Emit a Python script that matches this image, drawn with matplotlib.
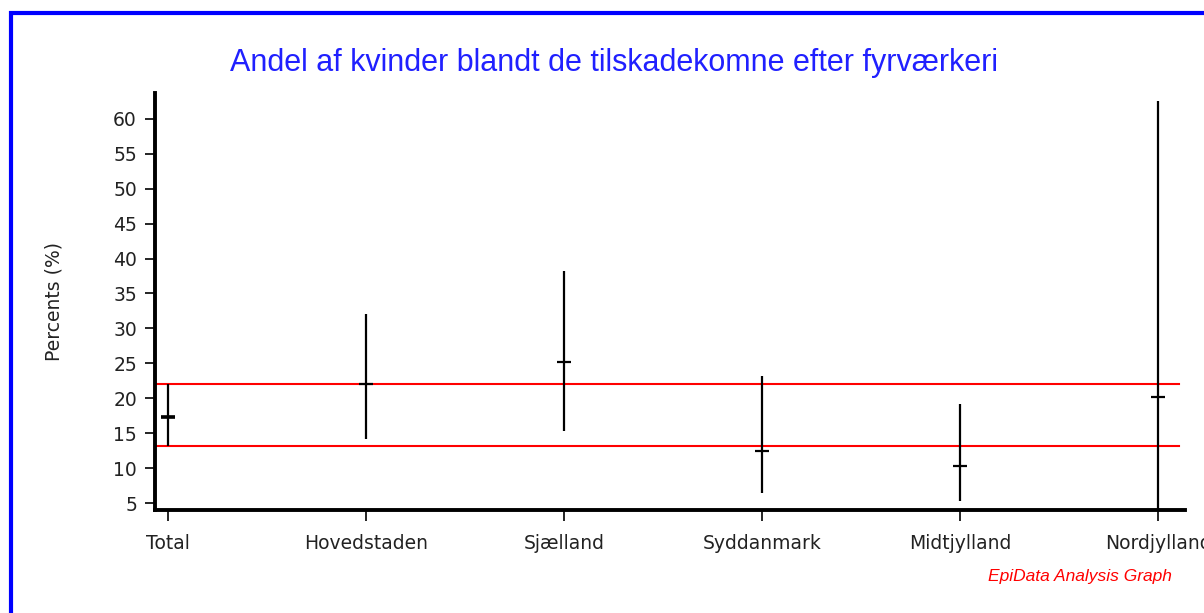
import matplotlib
matplotlib.use("Agg")
import matplotlib.pyplot as plt
from matplotlib.patches import Rectangle

categories = ["Total", "Hovedstaden", "Sjælland", "Syddanmark", "Midtjylland", "Nordjylland"]
means = [17.3, 22.0, 25.2, 12.4, 10.3, 20.2]
lower = [13.2, 14.2, 15.3, 6.4, 5.3, 0.0]
upper = [22.0, 32.1, 38.2, 23.2, 19.2, 62.6]
ref_lower = 13.15
ref_upper = 22.0
yticks = [5, 10, 15, 20, 25, 30, 35, 40, 45, 50, 55, 60]

plt.rcParams['font.family'] = ['DejaVu Sans']

fig = plt.figure(figsize=(12.04, 6.13), dpi=100)
ax = fig.add_axes([155/1204, 1-510/613, (1185-155)/1204, (510-93)/613])

x = list(range(len(categories)))
ax.vlines(x, lower, upper, color='black', lw=1.6, zorder=3)
ax.plot(x, means, linestyle='none', marker='_', markersize=10, mew=1.6, color='black', zorder=4)
ax.plot(x[:1], means[:1], linestyle='none', marker='_', markersize=10, mew=2.6, color='black', zorder=4)

ax.plot([-0.066, 5.106], [ref_upper, ref_upper], color='red', lw=1.5, zorder=2, clip_on=False)
ax.plot([-0.066, 5.106], [ref_lower, ref_lower], color='red', lw=1.5, zorder=2, clip_on=False)

ax.set_xlim(-0.066, 5.136)
ax.set_ylim(4.0, 63.7)
ax.set_yticks(yticks)
ax.set_xticks(x)
ax.set_xticklabels(categories)
ax.tick_params(axis='both', labelsize=13.5, width=1.2, color='black', labelcolor='#222222')
ax.tick_params(axis='y', length=7, pad=6)
ax.tick_params(axis='x', length=8, pad=9)

for s in ['top', 'right']:
    ax.spines[s].set_visible(False)
for s in ['left', 'bottom']:
    ax.spines[s].set_linewidth(2.8)

ax.set_ylabel("Percents (%)", fontsize=13.5, color='#222222')
ax.yaxis.set_label_coords((63-155)/1030, 0.5)

fig.text(614/1204, 1-63/613, "Andel af kvinder blandt de tilskadekomne efter fyrværkeri",
         color='#2020ff', fontsize=22, ha='center', va='center', family='Liberation Sans')
fig.text(1172/1204, 1-576/613, "EpiData Analysis Graph", color='red', fontsize=12.5,
         style='italic', ha='right', va='center', family='Liberation Sans')

fig.patches.append(Rectangle((11/1204, -0.05), 1.2, 1-13/613+0.05, transform=fig.transFigure,
                             fill=False, edgecolor='#0000ff', lw=3, zorder=10))

fig.savefig("out.png", dpi=100)
